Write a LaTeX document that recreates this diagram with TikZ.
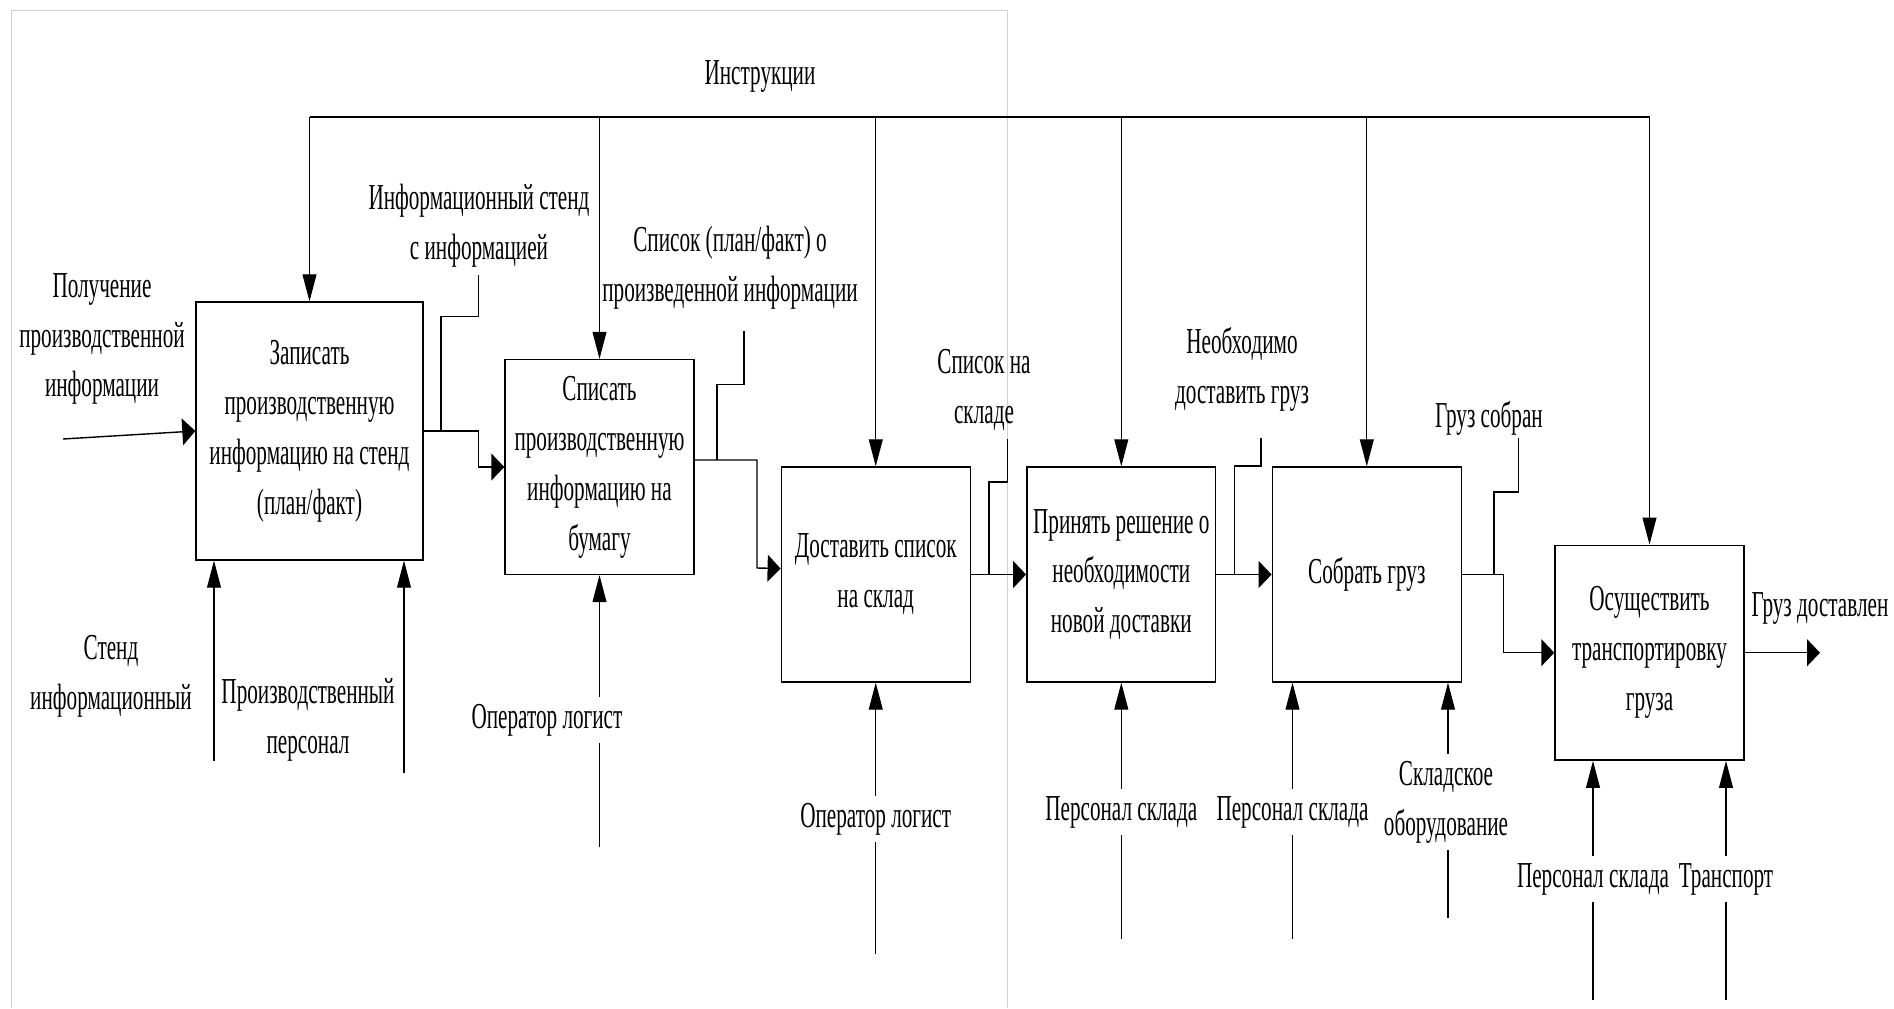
\documentclass[tikz,border=0pt]{standalone}
\usepackage{fontspec}
\setmainfont[FakeStretch=0.58]{Liberation Serif}
\usepackage{tikz}
\usetikzlibrary{arrows.meta}

\begin{document}
\begin{tikzpicture}[x=0.02cm, y=-0.02cm,
    every node/.style={font=\fontsize{20.8}{28.4}\selectfont, align=center},
    box/.style={draw, line width=0.8pt, inner sep=0pt, minimum width=3.78cm, minimum height=4.3cm},
    flow/.style={line width=0.8pt},
    harr/.style={flow, -{Triangle[length=7.4pt, width=15.3pt]}},
    varr/.style={line width=0.6pt, -{Triangle[length=15.3pt, width=7.9pt]}},
    cut/.style={fill=white, inner sep=4pt}]
                        \useasboundingbox (0, 0) rectangle (1894, 1008);
                        \draw[gray!35] (11, 1008) |- (1007, 10) -- (1007, 1008);

                        \node[box, minimum width=4.54cm, minimum height=5.16cm] (zap) at (309.5, 431) {Записать\\производственную\\информацию на стенд\\(план/факт)};
                        \node[box] (spis) at (599.5, 467) {Списать\\производственную\\информацию на\\бумагу};
                        \node[box] (dost) at (875.75, 574.5) {Доставить список\\на склад};
                        \node[box] (resh) at (1121.3, 574.5) {Принять решение о\\необходимости\\новой доставки};
                        \node[box] (sbor) at (1366.8, 574.5) {Собрать груз};
                        \node[box] (tran) at (1649.5, 652.7) {Осуществить\\транспортировку\\груза};

                        \coordinate (cl) at (309.5, 117);
                        \coordinate (cr) at (1649.5, 117);
                        \coordinate (in1) at (63, 439);
                        \coordinate (j2) at (757, 568);
                        \coordinate (j5) at (1503.5, 652.7);
                        \coordinate (out6) at (1820, 652.7);
                        \coordinate (s1) at (441, 431);
                        \coordinate (t1) at (478.5, 275);
                        \coordinate (s2) at (717, 460);
                        \coordinate (t2) at (744, 331);
                        \coordinate (s3) at (989, 574.5);
                        \coordinate (t3) at (1007.7, 439);
                        \coordinate (s4) at (1234.6, 574.5);
                        \coordinate (t4) at (1261, 438);
                        \coordinate (s5) at (1494, 574.5);
                        \coordinate (t5) at (1518.7, 438);
                        \coordinate (m1a) at (214, 761);
                        \coordinate (m1b) at (404, 773);
                        \coordinate (m2) at (599.5, 847);
                        \coordinate (m3) at (875.75, 954);
                        \coordinate (m4) at (1121.3, 939);
                        \coordinate (m5a) at (1292.5, 939);
                        \coordinate (m5b) at (1448, 918);
                        \coordinate (m6a) at (1593, 1000);
                        \coordinate (m6b) at (1726, 1000);

                        \draw[flow] (cl) -- (cr);
                        \draw
                        (zap.north |- cl) edge[varr] (zap.north)
                        (spis.north |- cl) edge[varr] (spis.north)
                        (dost.north |- cl) edge[varr] (dost.north)
                        (resh.north |- cl) edge[varr] (resh.north)
                        (sbor.north |- cl) edge[varr] (sbor.north)
                        (tran.north |- cl) edge[varr] (tran.north);

                        \draw[harr] (in1) -- (zap.west);
                        \draw[harr] (zap.east) -| (s1 -| t1) |- (spis.west);
                        \draw[harr] ([yshift=0.14cm]spis.east) -| (j2) -- ([yshift=0.12cm]dost.west);
                        \draw[harr] (dost.east) -- (resh.west);
                        \draw[harr] (resh.east) -- (sbor.west);
                        \draw[harr] (sbor.east) -| (j5) -- (tran.west);
                        \draw[harr] (tran.east) -- (out6);

                        \draw[flow] (s1) -- ++(0, -114.5) -| (t1);
                        \draw[flow] (s2) -- ++(0, -75.4) -| (t2);
                        \draw[flow] (s3) -- ++(0, -92.5) -| (t3);
                        \draw[flow] (s4) -- ++(0, -108.5) -| (t4);
                        \draw[flow] (s5) -- ++(0, -82.5) -| (t5);

                        \draw
                        (m1a) edge[varr] (m1a |- zap.south)
                        (m1b) edge[varr] (m1b |- zap.south)
                        (m2) edge[varr] (spis.south)
                        (m3) edge[varr] (dost.south)
                        (m4) edge[varr] (resh.south)
                        (m5a) edge[varr] (m5a |- sbor.south)
                        (m5b) edge[varr] (m5b |- sbor.south)
                        (m6a) edge[varr] (m6a |- tran.south)
                        (m6b) edge[varr] (m6b |- tran.south);

                        \node (instr) at (760, 76) {Инструкции};
                        \node (poluch) at (102, 339) {Получение\\производственной\\информации};
                        \node (stend) at (479, 226) {Информационный стенд\\с информацией};
                        \node (spisok) at (730, 268) {Список (план/факт) о\\произведенной информации};
                        \node (sklad) at (984, 390) {Список на\\складе};
                        \node (neobh) at (1242, 369) {Необходимо\\доставить груз};
                        \node (sobran) at (1489, 418) {Груз собран};
                        \node (dostavl) at (1820, 608) {Груз доставлен};
                        \node (stendinf) at (111, 676) {Стенд\\информационный};
                        \node (proizv) at (308, 720) {Производственный\\персонал};
                        \node[cut] (oper2) at (547, 720) {Оператор логист};
                        \node[cut] (oper3) at (875.75, 819) {Оператор логист};
                        \node[cut] (pers4) at (1121.3, 812) {Персонал склада};
                        \node[cut] (pers5) at (1292.5, 812) {Персонал склада};
                        \node[cut] (oborud) at (1446, 802) {Складское\\оборудование};
                        \node[cut] (pers6) at (1593, 879) {Персонал склада};
                        \node[cut] (transp) at (1726, 879) {Транспорт};
                    \end{tikzpicture}
\end{document}
